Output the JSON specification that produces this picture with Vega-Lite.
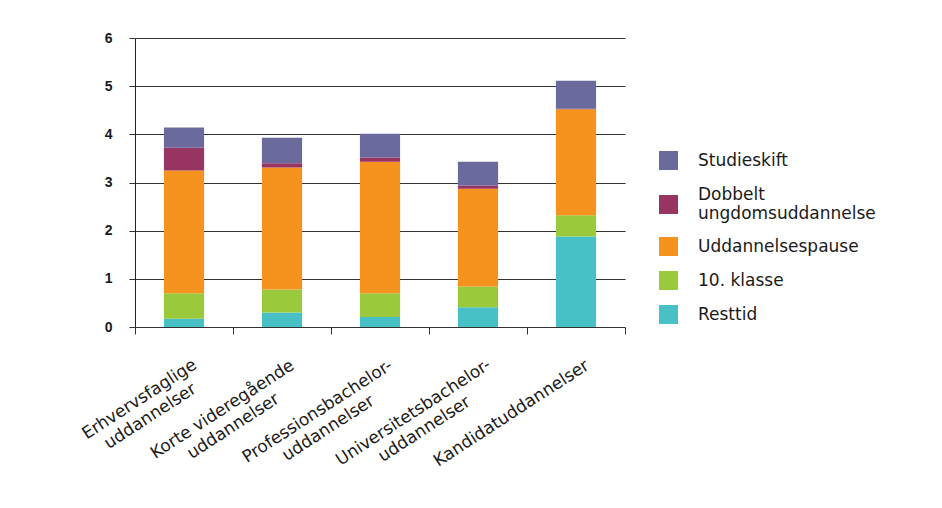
{
  "$schema": "https://vega.github.io/schema/vega-lite/v6.json",
  "width": 490,
  "height": 289,
  "autosize": {"type": "none"},
  "padding": {"left": 135, "top": 38, "right": 317, "bottom": 181},
  "background": "white",
  "config": {"view": {"stroke": null}, "font": "DejaVu Sans"},
  "data": {"values": [
    {"uddannelse": "Erhvervsfaglige uddannelser", "type": "Resttid", "value": 0.17},
    {"uddannelse": "Erhvervsfaglige uddannelser", "type": "10. klasse", "value": 0.53},
    {"uddannelse": "Erhvervsfaglige uddannelser", "type": "Uddannelsespause", "value": 2.55},
    {"uddannelse": "Erhvervsfaglige uddannelser", "type": "Dobbelt ungdomsuddannelse", "value": 0.47},
    {"uddannelse": "Erhvervsfaglige uddannelser", "type": "Studieskift", "value": 0.42},
    {"uddannelse": "Korte videregående uddannelser", "type": "Resttid", "value": 0.30},
    {"uddannelse": "Korte videregående uddannelser", "type": "10. klasse", "value": 0.48},
    {"uddannelse": "Korte videregående uddannelser", "type": "Uddannelsespause", "value": 2.53},
    {"uddannelse": "Korte videregående uddannelser", "type": "Dobbelt ungdomsuddannelse", "value": 0.09},
    {"uddannelse": "Korte videregående uddannelser", "type": "Studieskift", "value": 0.53},
    {"uddannelse": "Professionsbachelor-uddannelser", "type": "Resttid", "value": 0.21},
    {"uddannelse": "Professionsbachelor-uddannelser", "type": "10. klasse", "value": 0.49},
    {"uddannelse": "Professionsbachelor-uddannelser", "type": "Uddannelsespause", "value": 2.73},
    {"uddannelse": "Professionsbachelor-uddannelser", "type": "Dobbelt ungdomsuddannelse", "value": 0.09},
    {"uddannelse": "Professionsbachelor-uddannelser", "type": "Studieskift", "value": 0.49},
    {"uddannelse": "Universitetsbachelor-uddannelser", "type": "Resttid", "value": 0.41},
    {"uddannelse": "Universitetsbachelor-uddannelser", "type": "10. klasse", "value": 0.43},
    {"uddannelse": "Universitetsbachelor-uddannelser", "type": "Uddannelsespause", "value": 2.03},
    {"uddannelse": "Universitetsbachelor-uddannelser", "type": "Dobbelt ungdomsuddannelse", "value": 0.07},
    {"uddannelse": "Universitetsbachelor-uddannelser", "type": "Studieskift", "value": 0.49},
    {"uddannelse": "Kandidatuddannelser", "type": "Resttid", "value": 1.88},
    {"uddannelse": "Kandidatuddannelser", "type": "10. klasse", "value": 0.44},
    {"uddannelse": "Kandidatuddannelser", "type": "Uddannelsespause", "value": 2.20},
    {"uddannelse": "Kandidatuddannelser", "type": "Dobbelt ungdomsuddannelse", "value": 0.01},
    {"uddannelse": "Kandidatuddannelser", "type": "Studieskift", "value": 0.58}
  ]},
  "transform": [
    {"calculate": "indexof(['Resttid', '10. klasse', 'Uddannelsespause', 'Dobbelt ungdomsuddannelse', 'Studieskift'], datum.type)", "as": "stackorder"}
  ],
  "mark": {"type": "bar", "width": {"band": 0.41}},
  "encoding": {
    "x": {
      "field": "uddannelse", "type": "nominal", "sort": null,
      "scale": {"paddingInner": 0, "paddingOuter": 0},
      "axis": {
        "title": null, "domain": false, "grid": false,
        "tickBand": "extent", "ticks": true, "tickSize": 7, "tickColor": "#333333",
        "labelAngle": -33, "labelAlign": "center", "labelBaseline": "middle",
        "labelFont": "DejaVu Sans", "labelFontSize": 17, "labelColor": "#1a1a1a",
        "labelLineHeight": 20, "labelLimit": 400, "labelOverlap": false, "labelBound": false, "labelFlush": false,
        "labelExpr": "(datum.label == '' || datum.label == 'Kandidatuddannelser') ? datum.label : [trim(slice(datum.label, 0, length(datum.label) - 11)), 'uddannelser']",
        "labelOffset": {"condition": [
          {"test": "datum.value == 'Erhvervsfaglige uddannelser'", "value": -45},
          {"test": "datum.value == 'Korte videregående uddannelser'", "value": -60},
          {"test": "datum.value == 'Professionsbachelor-uddannelser'", "value": -63},
          {"test": "datum.value == 'Universitetsbachelor-uddannelser'", "value": -65}
        ], "value": -65},
        "labelPadding": {"condition": [
          {"test": "datum.value == 'Erhvervsfaglige uddannelser'", "value": 65},
          {"test": "datum.value == 'Korte videregående uddannelser'", "value": 75},
          {"test": "datum.value == 'Professionsbachelor-uddannelser'", "value": 77},
          {"test": "datum.value == 'Universitetsbachelor-uddannelser'", "value": 78}
        ], "value": 79}
      }
    },
    "y": {
      "field": "value", "type": "quantitative", "stack": "zero",
      "scale": {"domain": [0, 6], "nice": false},
      "axis": {
        "title": null, "values": [0, 1, 2, 3, 4, 5, 6],
        "grid": true, "gridColor": "#333333", "gridWidth": 1,
        "tickSize": 6, "tickColor": "#333333",
        "domain": true, "domainColor": "#222222",
        "labelFont": "Liberation Sans", "labelFontWeight": "bold", "labelFontSize": 14,
        "labelPadding": 17, "labelColor": "#1a1a1a"
      }
    },
    "color": {
      "field": "type", "type": "nominal",
      "scale": {
        "domain": ["Studieskift", "Dobbelt ungdomsuddannelse", "Uddannelsespause", "10. klasse", "Resttid"],
        "range": ["#6a6a9c", "#983462", "#f6921e", "#9bc93c", "#47c1c5"]
      },
      "legend": {
        "title": null, "orient": "none", "legendX": 524, "legendY": 113,
        "symbolType": "square", "symbolSize": 361, "symbolStrokeWidth": 0, "symbolOpacity": 1,
        "labelFont": "DejaVu Sans", "labelFontSize": 17, "labelColor": "#1a1a1a",
        "labelOffset": 20, "rowPadding": 15, "padding": 0, "labelLimit": 300,
        "labelBaseline": {"expr": "datum.value == 'Dobbelt ungdomsuddannelse' ? 'line-bottom' : 'middle'"},
        "labelExpr": "datum.label == 'Dobbelt ungdomsuddannelse' ? ['Dobbelt', 'ungdomsuddannelse'] : datum.label"
      }
    },
    "order": {"field": "stackorder", "type": "quantitative"}
  }
}
